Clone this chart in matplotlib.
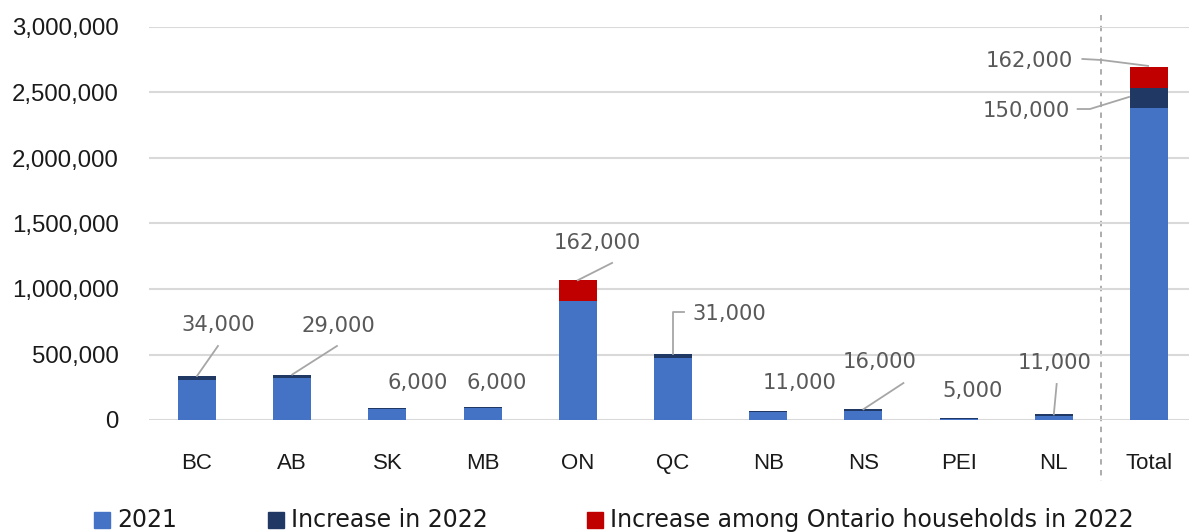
import numpy as np
import matplotlib
matplotlib.use("Agg")
import matplotlib.pyplot as plt
from matplotlib.patches import Rectangle
import matplotlib.transforms as mtransforms

plt.rcParams['font.family'] = ['DejaVu Sans']

# data
regions = ['BC', 'AB', 'SK', 'MB', 'ON', 'QC', 'NB', 'NS', 'PEI', 'NL', 'Total']
base_2021 = [302000, 318000, 84000, 92000, 905000, 476000, 58000, 66000, 8000, 32000, 2384000]
inc_2022 = [34000, 29000, 6000, 6000, 0, 31000, 11000, 16000, 5000, 11000, 150000]
inc_ontario = [0, 0, 0, 0, 162000, 0, 0, 0, 0, 0, 162000]
series_names = ['2021', 'Increase in 2022', 'Increase among Ontario households in 2022']

blue = '#4472C4'
navy = '#203864'
red = '#C00000'
grid_c = '#D9D9D9'
lab_c = '#595959'
tick_font = ['Liberation Sans', 'DejaVu Sans']

fig = plt.figure(figsize=(11.89, 5.32), dpi=100)
ax = fig.add_axes([149.4 / 1189, 112 / 532, (1189 - 149.4) / 1189, 393 / 532])

x = np.arange(len(regions))
b1 = np.array(base_2021)
b2 = np.array(inc_2022)
b3 = np.array(inc_ontario)
w = 0.4
ax.bar(x, b1, w, color=blue, zorder=3)
ax.bar(x, b2, w, bottom=b1, color=navy, zorder=3)
ax.bar(x, b3, w, bottom=b1 + b2, color=red, zorder=3)

ax.set_xlim(-0.5, 10.42)
ax.set_ylim(0, 3000000)
ax.set_yticks(np.arange(0, 3000001, 500000))
ax.yaxis.set_major_formatter(matplotlib.ticker.FuncFormatter(lambda v, p: f"{int(v):,}"))
ax.grid(axis='y', color=grid_c, linewidth=1.5, zorder=0)
for s in ax.spines.values():
    s.set_visible(False)
ax.tick_params(axis='y', length=0, pad=22, labelsize=17.3, labelcolor='#1a1a1a')
ax.set_xticks(x)
ax.set_xticklabels(regions)
ax.tick_params(axis='x', length=0, pad=24, labelsize=16, labelcolor='#1a1a1a')
for t in ax.get_xticklabels() + ax.get_yticklabels():
    t.set_family(tick_font)

# separator before Total
trans = mtransforms.blended_transform_factory(ax.transData, ax.transAxes)
ax.plot([9.5, 9.5], [1.03, -0.155], transform=trans, color='#A6A6A6',
        linestyle=(0, (3, 3)), linewidth=1.3, clip_on=False, zorder=1)

# data labels: text position, alignment, leader line
labels = [
    (f"{inc_2022[0]:,}", (0.22, 725000), 'center', [(0.22, 565000), (0.0, 336000)]),
    (f"{inc_2022[1]:,}", (1.48, 718000), 'center', [(1.47, 565000), (1.0, 347000)]),
    (f"{inc_2022[2]:,}", (2.32, 282000), 'center', None),
    (f"{inc_2022[3]:,}", (3.15, 282000), 'center', None),
    (f"{inc_ontario[4]:,}", (4.20, 1351000), 'center', [(4.36, 1199000), (4.0, 1067000)]),
    (f"{inc_2022[5]:,}", (5.2, 809000), 'left', [(5.0, 507000), (5.0, 824000), (5.12, 824000)]),
    (f"{inc_2022[6]:,}", (6.33, 282000), 'center', None),
    (f"{inc_2022[7]:,}", (7.17, 443000), 'center', [(7.42, 282000), (7.0, 82000)]),
    (f"{inc_2022[8]:,}", (8.15, 221000), 'center', None),
    (f"{inc_2022[9]:,}", (9.01, 435000), 'center', [(9.03, 275000), (9.0, 43000)]),
    (f"{inc_ontario[10]:,}", (9.2, 2741000), 'right', [(9.3, 2756000), (9.5, 2748000), (9.99, 2703000)]),
    (f"{inc_2022[10]:,}", (9.17, 2359000), 'right', [(9.25, 2374000), (9.38, 2374000), (9.79, 2466000)]),
]
for txt, (tx, ty), ha, line in labels:
    ax.text(tx, ty, txt, ha=ha, va='center', fontsize=15.2, color=lab_c, zorder=5)
    if line:
        lx, ly = zip(*line)
        ax.plot(lx, ly, color='#A6A6A6', linewidth=1.3, zorder=4)

# legend along the bottom
leg_colors = [blue, navy, red]
leg_x = [94, 268, 587]
for name, col, px in zip(series_names, leg_colors, leg_x):
    fig.patches.append(Rectangle((px / 1189, 4 / 532), 16 / 1189, 16 / 532,
                                 transform=fig.transFigure, color=col))
    fig.text((px + 23) / 1189, 12 / 532, name, fontsize=17, color='#1a1a1a',
             ha='left', va='center')

fig.savefig('out.png', dpi=100)
